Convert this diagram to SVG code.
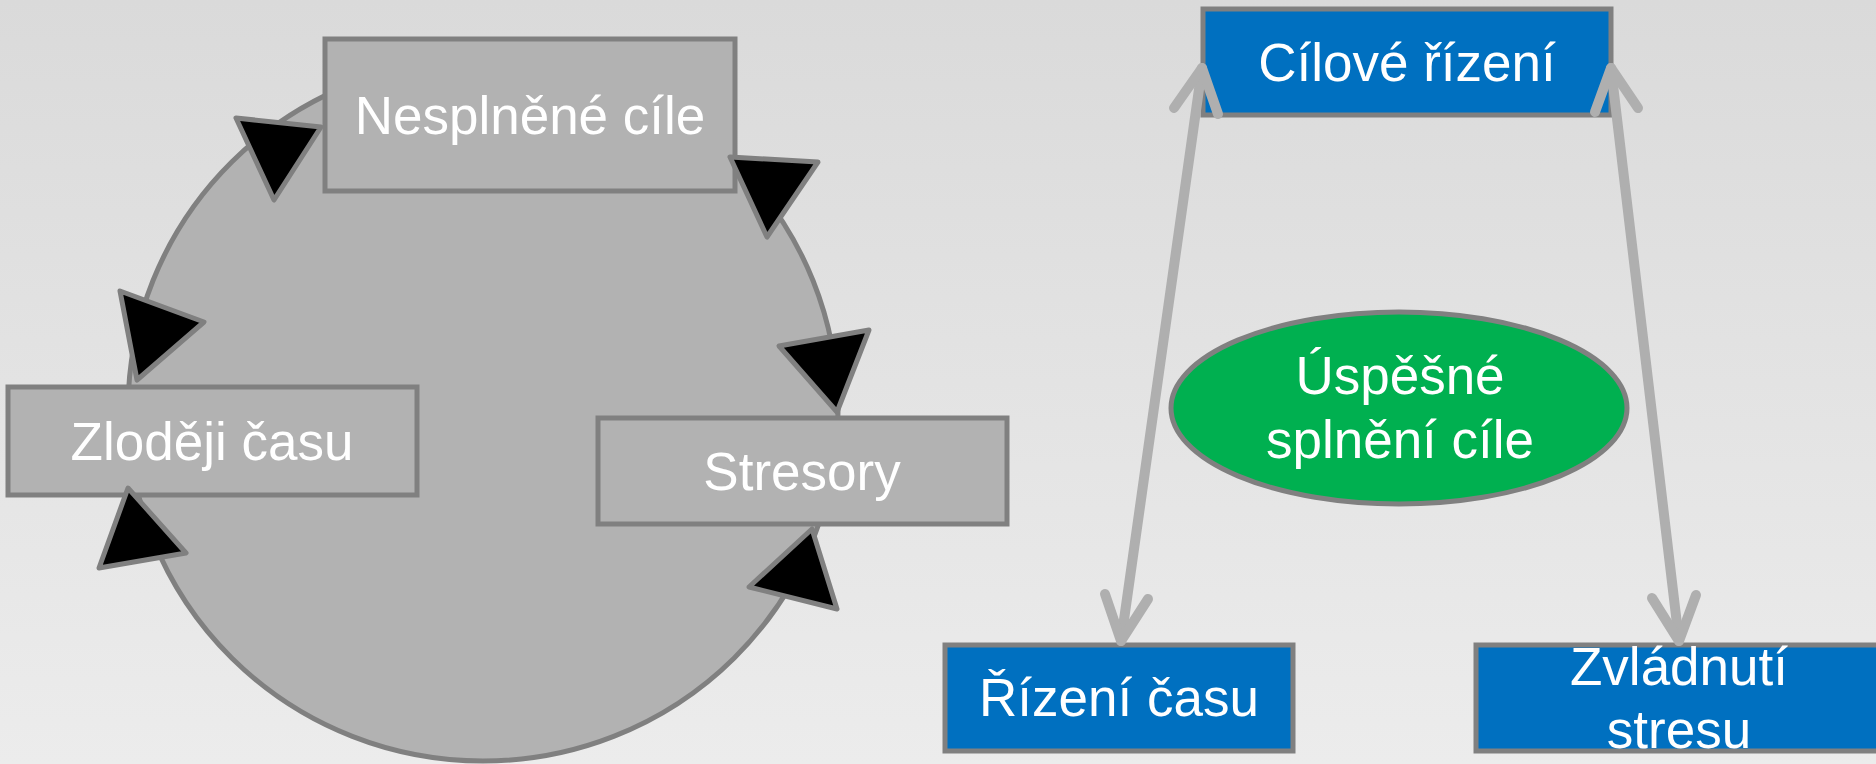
<svg xmlns="http://www.w3.org/2000/svg" width="1876" height="764" viewBox="0 0 1876 764">
<defs>
<linearGradient id="bg" x1="0" y1="0" x2="0" y2="1">
<stop offset="0" stop-color="#dadada"/>
<stop offset="1" stop-color="#ececec"/>
</linearGradient>
<style>
.gbox{fill:#b2b2b2;stroke:#808080;stroke-width:5}
.bbox{fill:#0070c0;stroke:#808080;stroke-width:5}
.lbl{font-family:"Liberation Sans",Arial,sans-serif;font-size:53px;fill:#ffffff;text-anchor:middle}
.tri{fill:#000000;stroke:#808080;stroke-width:5;stroke-linejoin:round}
.arr{fill:none;stroke:#afafaf;stroke-width:10;stroke-linecap:round;stroke-linejoin:round}
</style>
</defs>
<rect x="0" y="0" width="1876" height="764" fill="url(#bg)"/>
<g id="cycle">
<ellipse cx="483" cy="410" rx="355" ry="351" fill="#b2b2b2" stroke="#808080" stroke-width="5"/>
</g>
<g id="node-nesplnene">
<rect class="gbox" x="325" y="39" width="410" height="152"/>
<text class="lbl" x="530" y="134">Nesplněné cíle</text>
</g>
<g id="node-zlodeji">
<rect class="gbox" x="8" y="387" width="409" height="108"/>
<text class="lbl" x="212" y="460">Zloději času</text>
</g>
<g id="node-stresory">
<rect class="gbox" x="598" y="418" width="409" height="106"/>
<text class="lbl" x="802" y="490">Stresory</text>
</g>
<g id="node-uspesne">
<ellipse cx="1399" cy="408" rx="228" ry="96" fill="#00b050" stroke="#808080" stroke-width="5"/>
<text class="lbl" x="1400" y="394">Úspěšné</text>
<text class="lbl" x="1400" y="458">splnění cíle</text>
</g>
<g id="node-cilove">
<rect class="bbox" x="1203" y="9" width="408" height="106"/>
<text class="lbl" x="1407" y="81">Cílové řízení</text>
</g>
<g id="node-rizeni-casu">
<rect class="bbox" x="945" y="645" width="348" height="106"/>
<text class="lbl" x="1119" y="716">Řízení času</text>
</g>
<g id="node-zvladnuti">
<rect class="bbox" x="1476" y="645" width="408" height="106"/>
<text class="lbl" x="1679" y="685">Zvládnutí</text>
<text class="lbl" x="1679" y="748">stresu</text>
</g>
<g id="connectors">
<polygon class="tri" points="236,118 321,127 274,200"/>
<polygon class="tri" points="730,157 818,162 767,237"/>
<polygon class="tri" points="779,346 869,330 837,412"/>
<polygon class="tri" points="812,529 837,609 749,587"/>
<polygon class="tri" points="128,488 186,553 99,568"/>
<polygon class="tri" points="120,291 204,322 137,380"/>
<line class="arr" x1="1202" y1="68" x2="1121" y2="641"/>
<polyline class="arr" points="1174,108 1202,68 1218,114"/>
<polyline class="arr" points="1105,594 1121,641 1148,599"/>
<line class="arr" x1="1611" y1="68" x2="1679" y2="641"/>
<polyline class="arr" points="1595,112 1611,68 1638,108"/>
<polyline class="arr" points="1652,598 1679,641 1696,595"/>
</g>
</svg>
